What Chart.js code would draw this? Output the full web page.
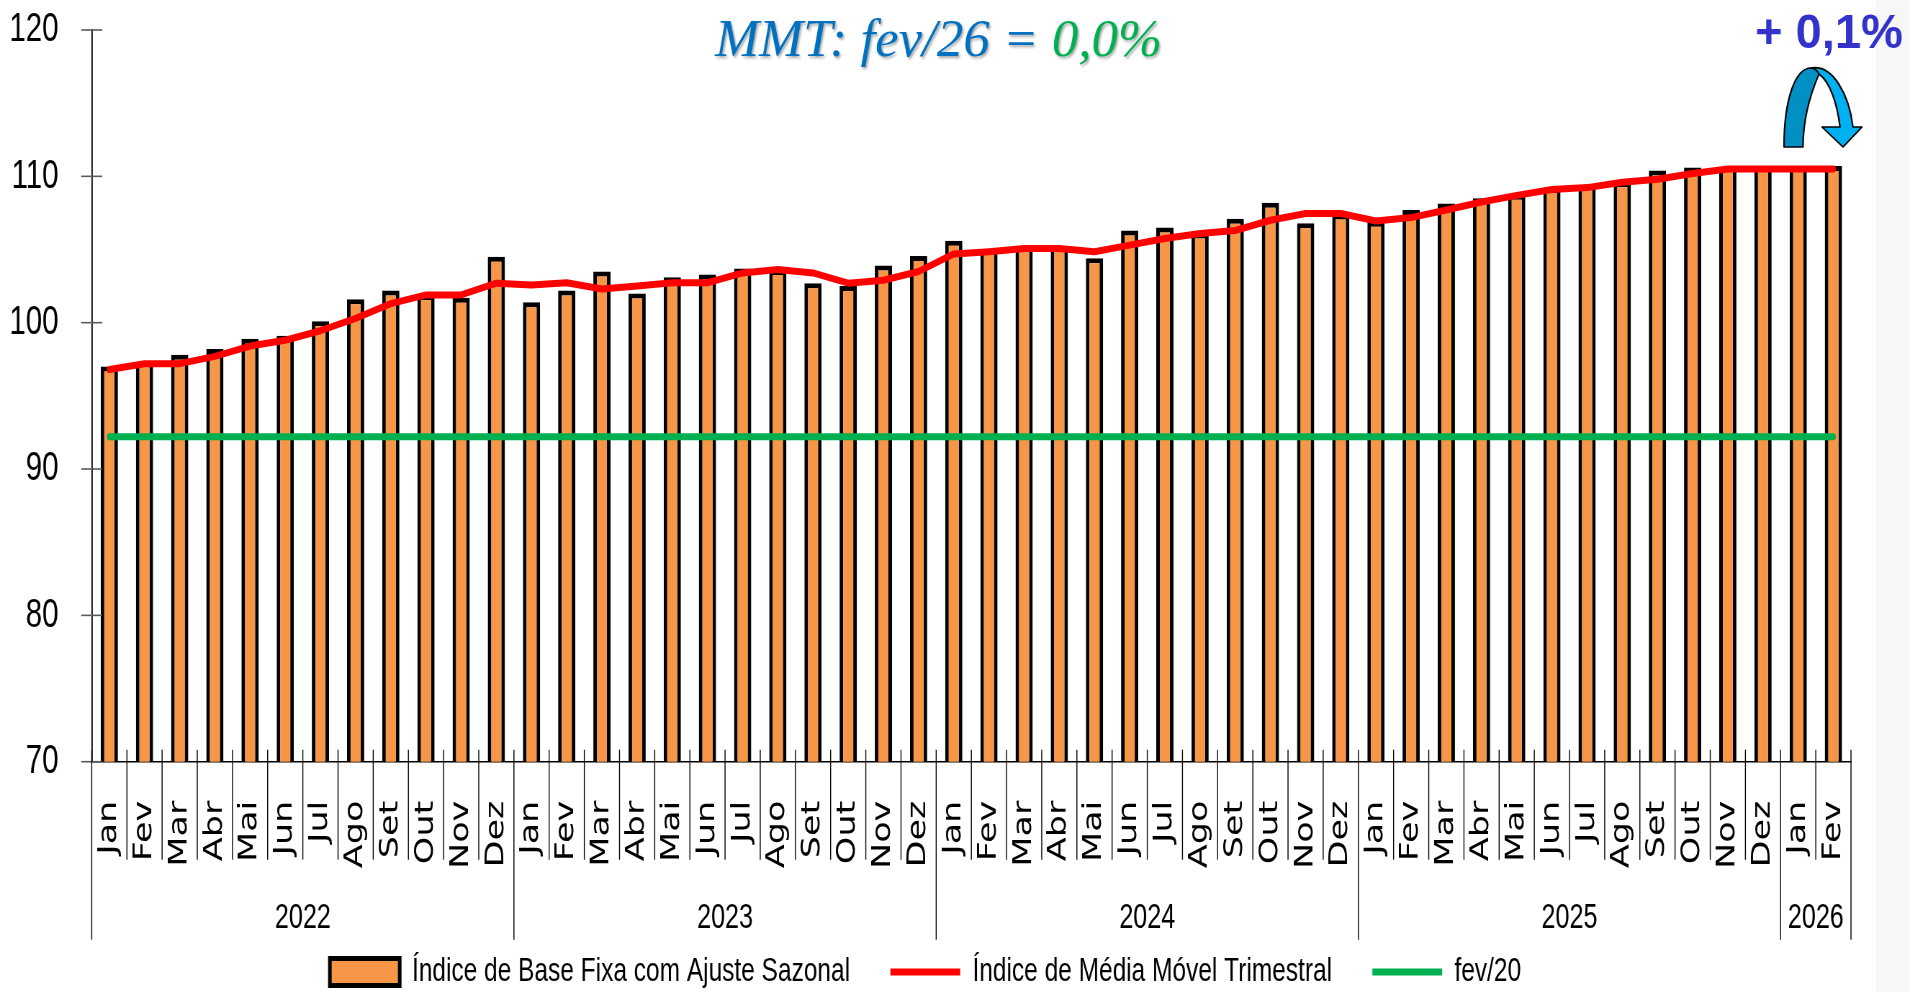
<!DOCTYPE html>
<html>
<head>
<meta charset="utf-8">
<script src="https://cdn.jsdelivr.net/npm/chart.js@4.4.1/dist/chart.umd.min.js"></script>
<style>
  html, body { margin: 0; padding: 0; overflow: hidden; }
  body { width: 1910px; height: 992px; background: linear-gradient(to right, #fff 1876px, #f7f7f7 1876px); }
  /* o gráfico é desenhado mais largo e comprimido na horizontal, como no original */
  #wrap { position: absolute; left: 0; top: 0; width: 2653px; height: 992px; transform: scaleX(0.71994); transform-origin: 0 0; }
</style>
</head>
<body>
<div id="wrap"><canvas id="grafico"></canvas></div>
<script>
// Dados
const mesesAbrev = ['Jan', 'Fev', 'Mar', 'Abr', 'Mai', 'Jun', 'Jul', 'Ago', 'Set', 'Out', 'Nov', 'Dez'];
const anos = ['2022', '2023', '2024', '2025', '2026'];
const mesesPorAno = [12, 12, 12, 12, 2];

const indiceBaseFixa = [
  97.0, 97.3, 97.8, 98.2, 98.9, 99.1, 100.1, 101.6, 102.2, 101.9, 101.7, 104.5,
  101.4, 102.2, 103.5, 102.0, 103.1, 103.3, 103.7, 103.6, 102.7, 102.5, 103.9, 104.55,
  105.6, 105.0, 105.2, 105.2, 104.4, 106.3, 106.5, 106.1, 107.1, 108.2, 106.8, 107.4,
  106.9, 107.7, 108.15, 108.5, 108.75, 109.2, 109.4, 109.6, 110.4, 110.6, 110.65, 110.65,
  110.7, 110.7
];
const mediaMovelTrimestral = [
  96.8, 97.2, 97.2, 97.7, 98.4, 98.8, 99.45, 100.3, 101.3, 101.9, 101.9, 102.7,
  102.57, 102.73, 102.3, 102.5, 102.73, 102.73, 103.4, 103.64, 103.4, 102.7, 102.9, 103.5,
  104.7, 104.85, 105.07, 105.07, 104.85, 105.3, 105.75, 106.1, 106.3, 107.0, 107.46, 107.46,
  106.95, 107.18, 107.7, 108.25, 108.7, 109.1, 109.23, 109.6, 109.8, 110.2, 110.5, 110.5,
  110.5, 110.5
];
const nivelFev20 = 92.2;
const eixoY = { min: 70, max: 120, passo: 10 };

const categorias = anos.flatMap((a, i) => mesesAbrev.slice(0, mesesPorAno[i]));

const LARGURA = 2653;             // largura interna do canvas
const ESCALA_X = 1910 / LARGURA;  // compressão horizontal feita pelo CSS

// texto com largura final fixa (em px da tela)
function textoAjustado(ctx, partes, fonte, x, yBase, largura, sombra) {
  ctx.save();
  ctx.font = fonte;
  ctx.textAlign = 'left';
  ctx.textBaseline = 'alphabetic';
  const total = partes.reduce((s, p) => s + ctx.measureText(p[0]).width, 0);
  ctx.translate(x, yBase);
  ctx.scale(largura / total, 1);
  if (sombra) {
    ctx.shadowColor = 'rgba(0,0,0,0.35)';
    ctx.shadowOffsetX = 2;
    ctx.shadowOffsetY = 2;
    ctx.shadowBlur = 3;
  }
  let cx = 0;
  partes.forEach(p => {
    ctx.fillStyle = p[1];
    ctx.fillText(p[0], cx, 0);
    cx += ctx.measureText(p[0]).width;
  });
  ctx.restore();
}

// seta curva azul do canto direito
function seta(ctx) {
  ctx.lineWidth = 1.6;
  ctx.strokeStyle = '#000';
  ctx.lineJoin = 'round';
  ctx.beginPath();
  ctx.moveTo(1784, 147);
  ctx.bezierCurveTo(1784, 100, 1795, 68, 1811, 68);
  ctx.bezierCurveTo(1815, 68, 1818, 71, 1819, 74);
  ctx.bezierCurveTo(1810, 95, 1803, 120, 1803, 147);
  ctx.closePath();
  ctx.fillStyle = '#0090C4';
  ctx.fill();
  ctx.stroke();

  ctx.beginPath();
  ctx.moveTo(1811, 68);
  ctx.bezierCurveTo(1833, 64, 1849, 95, 1853, 127);
  ctx.lineTo(1862, 127);
  ctx.lineTo(1843, 147);
  ctx.lineTo(1822, 127);
  ctx.lineTo(1840, 127);
  ctx.bezierCurveTo(1837, 103, 1830, 82, 1819, 74);
  ctx.bezierCurveTo(1817, 70, 1814, 68, 1811, 68);
  ctx.closePath();
  ctx.fillStyle = '#00B0F0';
  ctx.fill();
  ctx.stroke();
}

const decoracao = {
  id: 'decoracao',
  afterDraw(chart) {
    const { ctx, chartArea } = chart;
    const x = chart.scales.x, y = chart.scales.y;
    const base = chartArea.bottom;
    ctx.save();

    // marcas do eixo Y cruzando o eixo
    ctx.strokeStyle = '#595959';
    ctx.lineWidth = 1.6;
    y.ticks.forEach(t => {
      const py = y.getPixelForValue(t.value);
      ctx.beginPath();
      ctx.moveTo(chartArea.left - 14.6, py);
      ctx.lineTo(chartArea.left + 14.6, py);
      ctx.stroke();
    });

    // separadores de meses / anos
    const fronteiras = new Set([0]);
    let acum = 0;
    mesesPorAno.forEach(n => { acum += n; fronteiras.add(acum); });
    ctx.strokeStyle = '#000';
    ctx.lineWidth = 1.4;
    for (let i = 0; i <= categorias.length; i++) {
      const px = x.getPixelForValue(i - 0.5);
      const fim = fronteiras.has(i) ? base + 178 : base + 98;
      ctx.beginPath();
      ctx.moveTo(px, base - 12);
      ctx.lineTo(px, fim);
      ctx.stroke();
    }

    // rótulos dos anos
    ctx.font = '35px "Liberation Sans"';
    ctx.fillStyle = '#000';
    ctx.textAlign = 'center';
    ctx.textBaseline = 'middle';
    acum = 0;
    anos.forEach((ano, i) => {
      const x0 = x.getPixelForValue(acum - 0.5);
      const x1 = x.getPixelForValue(acum + mesesPorAno[i] - 0.5);
      ctx.fillText(ano, (x0 + x1) / 2, base + 157);
      acum += mesesPorAno[i];
    });
    ctx.restore();

    // títulos e seta, em px da tela
    ctx.save();
    ctx.scale(1 / ESCALA_X, 1);
    textoAjustado(ctx, [['MMT: fev/26 = ', '#0070C0'], ['0,0%', '#00B050']],
      'italic 53px "Liberation Serif"', 715, 56, 447, true);
    textoAjustado(ctx, [['+ 0,1%', '#3333CC']], 'bold 49px "Liberation Sans"', 1755, 48, 148, false);
    seta(ctx);
    ctx.restore();
  }
};

const ctx = document.getElementById('grafico').getContext('2d');

new Chart(ctx, {
  type: 'bar',
  data: {
    labels: categorias,
    datasets: [
      {
        type: 'bar',
        label: 'Índice de Base Fixa com Ajuste Sazonal',
        data: indiceBaseFixa,
        backgroundColor: '#F79646',
        borderColor: '#000',
        borderWidth: 5,
        borderSkipped: false,
        barPercentage: 0.49,
        categoryPercentage: 1,
        pointStyle: 'rect',
        order: 3
      },
      {
        type: 'line',
        label: 'Índice de Média Móvel Trimestral',
        data: mediaMovelTrimestral,
        borderColor: '#FF0000',
        backgroundColor: '#FF0000',
        borderWidth: 7,
        pointRadius: 0,
        tension: 0,
        borderJoinStyle: 'round',
        borderCapStyle: 'round',
        pointStyle: 'line',
        order: 1
      },
      {
        type: 'line',
        label: 'fev/20',
        data: categorias.map(() => nivelFev20),
        borderColor: '#00B050',
        backgroundColor: '#00B050',
        borderWidth: 7,
        pointRadius: 0,
        borderCapStyle: 'round',
        pointStyle: 'line',
        order: 2
      }
    ]
  },
  options: {
    responsive: true,
    maintainAspectRatio: false,
    animation: false,
    layout: { padding: { top: 30, right: 82, left: 0, bottom: -7 } },
    scales: {
      x: {
        offset: true,
        grid: { display: false },
        border: { display: true, color: '#000', width: 1.5 },
        ticks: {
          autoSkip: false,
          minRotation: 90,
          maxRotation: 90,
          padding: 31,
          color: '#000',
          font: { family: 'DejaVu Sans', size: 35 }
        },
        afterFit: s => { s.height = 137.3; s.paddingLeft = 0; s.paddingRight = 0; }
      },
      y: {
        min: eixoY.min,
        max: eixoY.max,
        grid: { display: false },
        border: { display: true, color: '#000', width: 1.8 },
        ticks: {
          stepSize: eixoY.passo,
          padding: 38,
          color: '#000',
          font: { family: 'Liberation Sans', size: 41 }
        },
        afterFit: s => { s.width = 127.4; s.paddingTop = 0; s.paddingBottom = 0; }
      }
    },
    plugins: {
      legend: {
        display: true,
        position: 'bottom',
        labels: {
          usePointStyle: true,
          pointStyleWidth: 97,
          boxHeight: 27,
          padding: 56,
          color: '#000',
          font: { family: 'Liberation Sans', size: 34 },
          sort: (a, b) => a.datasetIndex - b.datasetIndex
        }
      },
      tooltip: { enabled: false }
    }
  },
  plugins: [decoracao]
});
</script>
</body>
</html>
